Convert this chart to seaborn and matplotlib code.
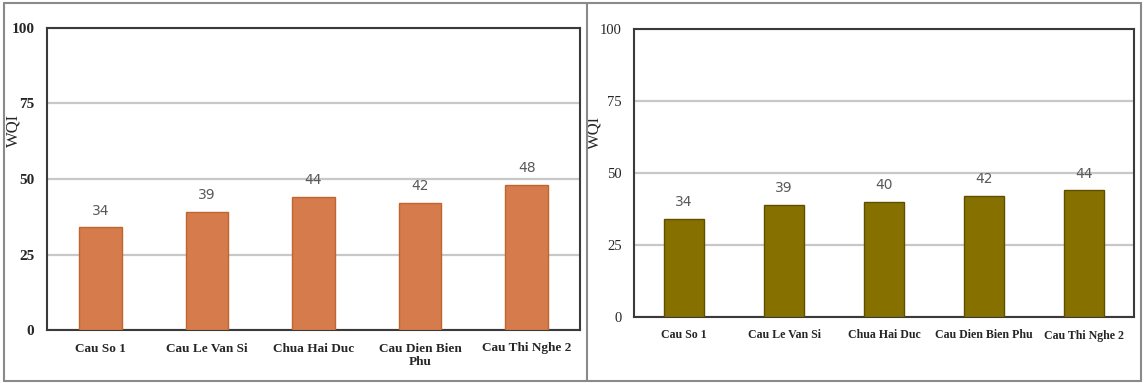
import pandas as pd
import numpy as np
import seaborn as sns
import matplotlib.pyplot as plt
from matplotlib.lines import Line2D

sns.set_style("white")
plt.rcParams["font.family"] = ["Liberation Serif", "DejaVu Serif"]

sites_left = ["Cau So 1", "Cau Le Van Si", "Chua Hai Duc", "Cau Dien Bien\nPhu", "Cau Thi Nghe 2"]
sites_right = ["Cau So 1", "Cau Le Van Si", "Chua Hai Duc", "Cau Dien Bien Phu", "Cau Thi Nghe 2"]
wqi_left = [34, 39, 44, 42, 48]
wqi_right = [34, 39, 40, 42, 44]
yticks = [0, 25, 50, 75, 100]

W, H = 1144, 383
fig = plt.figure(figsize=(W / 100, H / 100), dpi=100)

def px_axes(x0, y0, x1, y1):
    return fig.add_axes([x0 / W, 1 - y1 / H, (x1 - x0) / W, (y1 - y0) / H])

# axes, labels, values, fill, edge, ytick weight, ytick size, xtick size, ylabel x/y (axes coords)
panels = [
    (px_axes(47, 28, 580, 330), sites_left, wqi_left, "#D67B4B", "#BF6530", "bold", 11, 9.5, -0.047, 0.66),
    (px_axes(634, 29, 1134, 317), sites_right, wqi_right, "#867100", "#5E4F00", "normal", 10.5, 8.6, -0.064, 0.64),
]

for ax, sites, vals, fc, ec, yweight, ysize, xsize, lx, ly in panels:
    df = pd.DataFrame({"site": sites, "WQI": vals})
    sns.barplot(data=df, x="site", y="WQI", ax=ax, color=fc, width=0.4,
                edgecolor=ec, linewidth=1, saturation=1, zorder=3)
    ax.set_ylim(0, 100)
    ax.set_yticks(yticks)
    ax.set_yticklabels([str(t) for t in yticks], fontsize=ysize, fontweight=yweight, color="#262626")
    ax.set_xticks(range(len(sites)))
    ax.set_xticklabels(sites, fontsize=xsize, fontweight="bold", color="#262626")
    ax.tick_params(axis="y", length=0, pad=9)
    ax.tick_params(axis="x", length=0, pad=9)
    ax.set_xlabel("")
    ax.set_ylabel("WQI", fontsize=12, color="#262626")
    ax.yaxis.set_label_coords(lx, ly)
    ax.yaxis.grid(True, color="#C8C8C8", linewidth=1.6, zorder=0)
    ax.set_axisbelow(True)
    for s in ax.spines.values():
        s.set_visible(True)
        s.set_color("#3A3A3A")
        s.set_linewidth(1.5)
    for c in ax.containers:
        ax.bar_label(c, labels=[str(v) for v in vals], padding=7,
                     fontsize=10, color="#595959", family="DejaVu Sans")

# outer frames
fc_frame = "#8A8A8A"
for (x0, y0, x1, y1) in [(4, 3, 1141, 3), (4, 381, 1141, 381), (4, 3, 4, 381),
                         (1141, 3, 1141, 381), (587, 3, 587, 381)]:
    fig.add_artist(Line2D([x0 / W, x1 / W], [1 - y0 / H, 1 - y1 / H],
                          color=fc_frame, linewidth=1.5))

fig.savefig("out.png", dpi=100)
